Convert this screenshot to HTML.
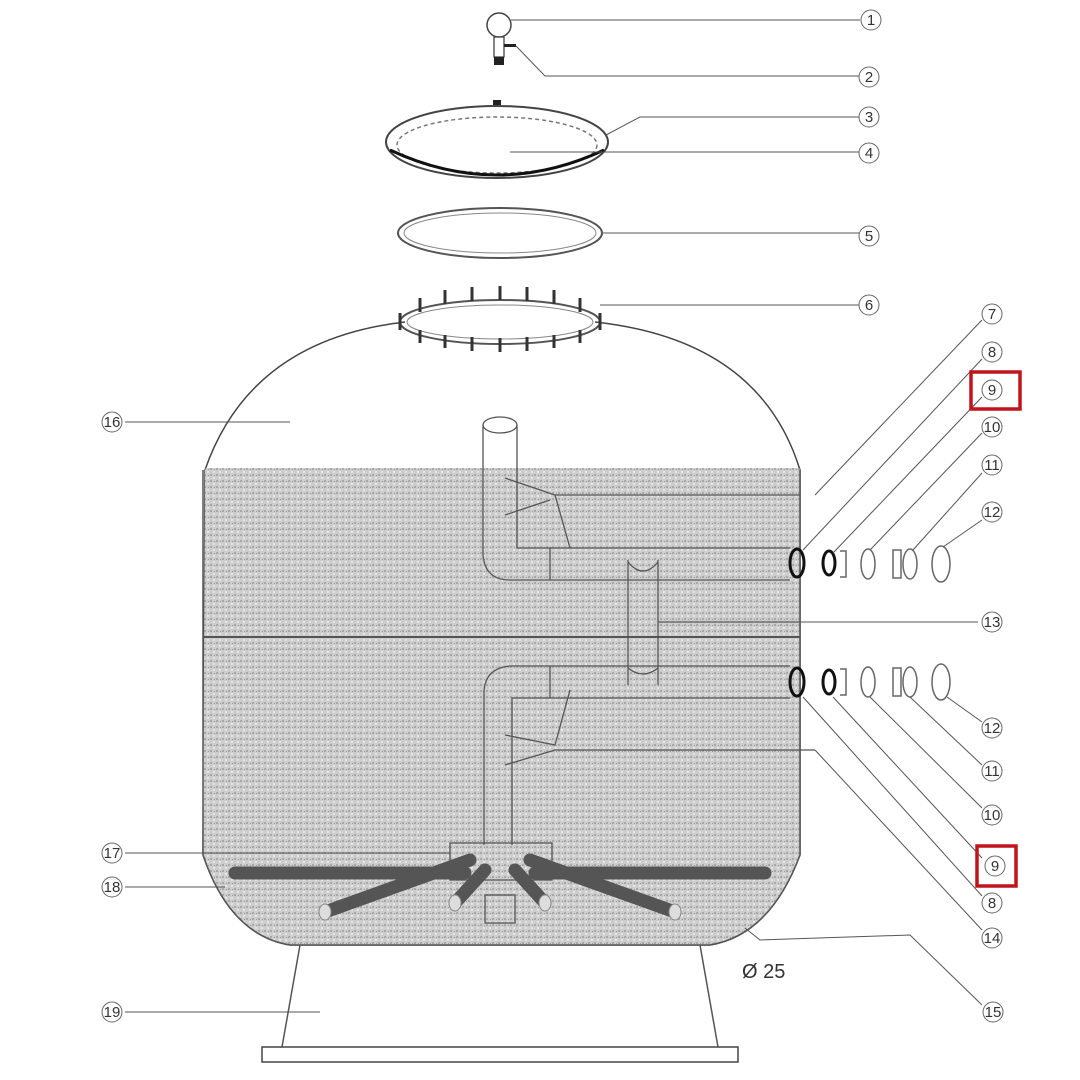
<!DOCTYPE html>
<html><head><style>
html,body{margin:0;padding:0;background:#fff;}
svg{display:block}
text{font-family:"Liberation Sans",sans-serif;font-size:15px;fill:#333;}
</style></head><body>
<svg width="1080" height="1080" viewBox="0 0 1080 1080" xmlns="http://www.w3.org/2000/svg">
<defs>
<pattern id="sand" width="6" height="6" patternUnits="userSpaceOnUse">
<rect width="6" height="6" fill="#cdcdcd"/>
<rect x="0" y="0" width="2" height="2" fill="#a8a8a8"/>
<rect x="3" y="3" width="2" height="2" fill="#e6e6e6"/>
<rect x="4" y="1" width="1" height="1" fill="#999"/>
</pattern>
<clipPath id="tank"><path d="M405,322 Q250,340 205,470 L203,855 Q230,935 290,945 L710,945 Q770,935 800,855 L800,470 Q760,340 595,322 Z"/></clipPath>
</defs>

<!-- knob -->
<circle cx="499" cy="25" r="12" fill="#fff" stroke="#444" stroke-width="1.5"/>
<rect x="494" y="37" width="10" height="20" fill="#fff" stroke="#444" stroke-width="1.3"/>
<rect x="494" y="57" width="10" height="8" fill="#222"/>
<rect x="504" y="44" width="12" height="3" fill="#222"/>
<line x1="511" y1="20" x2="860" y2="20" stroke="#555"/>
<polyline points="516,46 545,76 860,76" fill="none" stroke="#555"/>

<!-- lid -->
<ellipse cx="497" cy="142" rx="111" ry="36" fill="#fff" stroke="#444" stroke-width="2"/>
<ellipse cx="497" cy="145" rx="100" ry="28" fill="none" stroke="#777" stroke-width="1.5" stroke-dasharray="4,3"/>
<path d="M390,150 Q497,200 604,150" fill="none" stroke="#111" stroke-width="3"/>
<rect x="493" y="100" width="8" height="5" fill="#222"/>
<polyline points="606,135 640,117 860,117" fill="none" stroke="#555"/>
<line x1="510" y1="152" x2="860" y2="152" stroke="#555"/>

<!-- o-ring -->
<ellipse cx="500" cy="233" rx="102" ry="25" fill="none" stroke="#555" stroke-width="2"/>
<ellipse cx="500" cy="233" rx="96" ry="20" fill="none" stroke="#888" stroke-width="1"/>
<line x1="602" y1="233" x2="860" y2="233" stroke="#555"/>

<!-- tank -->
<path d="M405,322 Q250,340 205,470 L203,855 Q230,935 290,945 L710,945 Q770,935 800,855 L800,470 Q760,340 595,322" fill="#fff" stroke="#444" stroke-width="1.5"/>
<rect x="195" y="468" width="620" height="480" fill="url(#sand)" clip-path="url(#tank)"/>
<path d="M203,470 L203,855 Q230,935 290,945 L710,945 Q770,935 800,855 L800,470" fill="none" stroke="#555" stroke-width="1.5"/>
<line x1="203" y1="637" x2="800" y2="637" stroke="#555" stroke-width="2"/>

<!-- flange -->
<ellipse cx="500" cy="322" rx="100" ry="22" fill="none" stroke="#555" stroke-width="2"/>
<ellipse cx="500" cy="322" rx="93" ry="17" fill="none" stroke="#888" stroke-width="1"/>
<g stroke="#333" stroke-width="3">
<line x1="400" y1="313" x2="400" y2="330"/><line x1="420" y1="298" x2="420" y2="312"/><line x1="445" y1="290" x2="445" y2="304"/><line x1="472" y1="287" x2="472" y2="301"/><line x1="500" y1="286" x2="500" y2="300"/><line x1="527" y1="287" x2="527" y2="301"/><line x1="554" y1="290" x2="554" y2="304"/><line x1="580" y1="298" x2="580" y2="312"/><line x1="600" y1="313" x2="600" y2="330"/>
<line x1="420" y1="330" x2="420" y2="343"/><line x1="445" y1="335" x2="445" y2="348"/><line x1="472" y1="337" x2="472" y2="351"/><line x1="500" y1="338" x2="500" y2="352"/><line x1="527" y1="337" x2="527" y2="351"/><line x1="554" y1="335" x2="554" y2="348"/><line x1="580" y1="330" x2="580" y2="343"/>
</g>
<line x1="600" y1="305" x2="860" y2="305" stroke="#555"/>

<!-- pipes -->
<g fill="none" stroke="#555" stroke-width="1.3">
<ellipse cx="500" cy="425" rx="17" ry="8" fill="#fff"/>
<path d="M483,425 L483,555 Q485,580 510,580 L790,580"/>
<path d="M517,425 L517,548 L790,548"/>
<line x1="550" y1="548" x2="550" y2="580"/>
<path d="M505,478 L555,495 L570,548"/><path d="M505,515 L550,500"/>
<line x1="555" y1="495" x2="800" y2="495"/>
<line x1="628" y1="560" x2="628" y2="685"/><line x1="658" y1="560" x2="658" y2="685"/>
<path d="M628,562 Q643,580 658,562"/><path d="M628,668 Q643,680 658,668"/>
<line x1="658" y1="622" x2="800" y2="622"/>
<path d="M484,845 L484,690 Q486,668 510,666 L790,666"/>
<path d="M512,845 L512,698 L790,698"/>
<line x1="550" y1="666" x2="550" y2="698"/>
<path d="M570,690 L555,745 L505,735"/><path d="M505,765 L555,750 L815,750"/>
<rect x="450" y="843" width="102" height="37"/>
<rect x="485" y="895" width="30" height="28"/>
</g>

<!-- laterals -->
<g stroke="#555" stroke-width="13" stroke-linecap="round">
<line x1="235" y1="873" x2="465" y2="873"/><line x1="535" y1="873" x2="765" y2="873"/>
<line x1="325" y1="912" x2="470" y2="860"/><line x1="675" y1="912" x2="530" y2="860"/>
<line x1="455" y1="903" x2="485" y2="870"/><line x1="545" y1="903" x2="515" y2="870"/>
</g>
<g stroke="#888" stroke-width="1" fill="#ddd"><ellipse cx="325" cy="912" rx="6" ry="8"/><ellipse cx="675" cy="912" rx="6" ry="8"/><ellipse cx="455" cy="903" rx="6" ry="8"/><ellipse cx="545" cy="903" rx="6" ry="8"/></g>

<!-- base -->
<path d="M300,945 L282,1047 M700,945 L718,1047" stroke="#555" stroke-width="1.5" fill="none"/>
<rect x="262" y="1047" width="476" height="15" fill="#fff" stroke="#444" stroke-width="1.5"/>

<!-- right fittings -->
<g fill="none" stroke-width="3" stroke="#111">
<ellipse cx="797" cy="563" rx="7" ry="14"/><ellipse cx="829" cy="563" rx="6" ry="12"/>
<ellipse cx="797" cy="682" rx="7" ry="14"/><ellipse cx="829" cy="682" rx="6" ry="12"/>
</g>
<g fill="none" stroke-width="1.5" stroke="#666">
<path d="M840,551 L846,551 L846,577 L840,577"/><ellipse cx="868" cy="564" rx="7" ry="15"/><rect x="893" y="550" width="8" height="28"/><ellipse cx="910" cy="564" rx="7" ry="15"/><ellipse cx="941" cy="564" rx="9" ry="18"/>
<path d="M840,669 L846,669 L846,695 L840,695"/><ellipse cx="868" cy="682" rx="7" ry="15"/><rect x="893" y="668" width="8" height="28"/><ellipse cx="910" cy="682" rx="7" ry="15"/><ellipse cx="941" cy="682" rx="9" ry="18"/>
</g>

<!-- leaders -->
<g stroke="#555" stroke-width="1" fill="none">
<polyline points="815,495 982,320"/>
<polyline points="803,550 982,359"/>
<polyline points="833,553 982,397"/>
<polyline points="870,550 982,433"/>
<polyline points="913,550 982,473"/>
<polyline points="943,547 982,520"/>
<line x1="800" y1="622" x2="978" y2="622"/>
<polyline points="947,697 982,722"/>
<polyline points="910,697 982,765"/>
<polyline points="870,697 982,808"/>
<polyline points="833,697 982,858"/>
<polyline points="803,697 982,896"/>
<polyline points="815,750 982,930"/>
<polyline points="745,928 760,940 910,935 982,1005"/>
<line x1="125" y1="422" x2="290" y2="422"/>
<line x1="125" y1="853" x2="450" y2="853"/>
<line x1="125" y1="887" x2="225" y2="887"/>
<line x1="125" y1="1012" x2="320" y2="1012"/>
</g>
<text x="742" y="978" style="font-size:20px">Ø 25</text>

<!-- labels -->
<g fill="#fff" stroke="#666" stroke-width="1">
<circle cx="871" cy="20" r="10"/><circle cx="869" cy="77" r="10"/><circle cx="869" cy="117" r="10"/><circle cx="869" cy="153" r="10"/><circle cx="869" cy="236" r="10"/><circle cx="869" cy="305" r="10"/>
<circle cx="992" cy="314" r="10"/><circle cx="992" cy="352" r="10"/><circle cx="992" cy="390" r="10"/><circle cx="992" cy="427" r="10"/><circle cx="992" cy="465" r="10"/><circle cx="992" cy="512" r="10"/><circle cx="992" cy="622" r="10"/><circle cx="992" cy="728" r="10"/><circle cx="992" cy="771" r="10"/><circle cx="992" cy="815" r="10"/><circle cx="995" cy="866" r="10"/><circle cx="992" cy="903" r="10"/><circle cx="992" cy="938" r="10"/><circle cx="993" cy="1012" r="10"/>
<circle cx="112" cy="422" r="10"/><circle cx="112" cy="853" r="10"/><circle cx="112" cy="887" r="10"/><circle cx="112" cy="1012" r="10"/>
</g>
<rect x="971" y="372" width="49" height="37" fill="none" stroke="#c0141c" stroke-width="3.5"/>
<rect x="977" y="846" width="39" height="40" fill="none" stroke="#c0141c" stroke-width="3.5"/>
<g text-anchor="middle" style="font-size:13px">
<text x="871" y="25">1</text><text x="869" y="82">2</text><text x="869" y="122">3</text><text x="869" y="158">4</text><text x="869" y="241">5</text><text x="869" y="310">6</text>
<text x="992" y="319">7</text><text x="992" y="357">8</text><text x="992" y="395">9</text><text x="992" y="432">10</text><text x="992" y="470">11</text><text x="992" y="517">12</text><text x="992" y="627">13</text><text x="992" y="733">12</text><text x="992" y="776">11</text><text x="992" y="820">10</text><text x="995" y="871">9</text><text x="992" y="908">8</text><text x="992" y="943">14</text><text x="993" y="1017">15</text>
<text x="112" y="427">16</text><text x="112" y="858">17</text><text x="112" y="892">18</text><text x="112" y="1017">19</text>
</g>
</svg>
</body></html>
